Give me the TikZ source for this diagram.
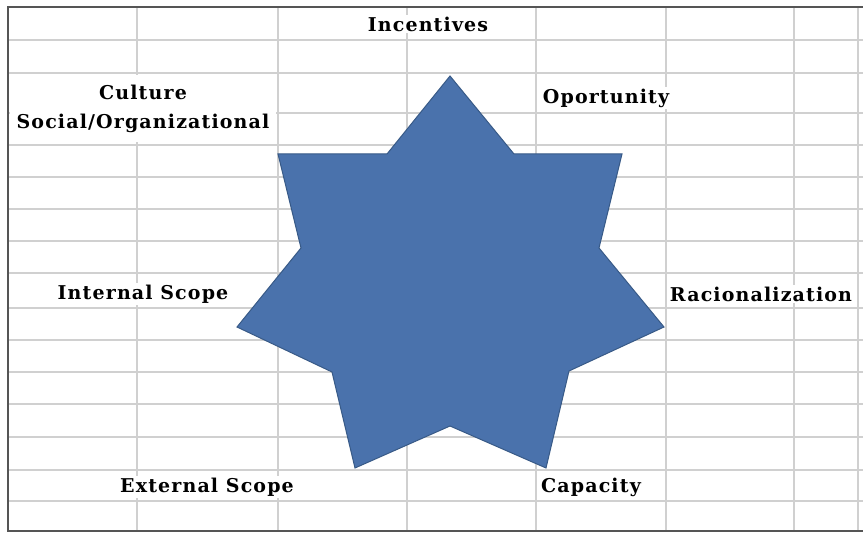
\documentclass[tikz,border=0pt]{standalone}
\usepackage{fontspec}
\setmainfont{DejaVu Serif}
\newfontfamily\cellfont[LetterSpace=6]{DejaVu Serif}
\usetikzlibrary{positioning}
\definecolor{starblue}{RGB}{74,114,172}
\definecolor{staredge}{RGB}{56,90,135}
\definecolor{gridgray}{RGB}{208,208,208}
\definecolor{framegray}{RGB}{85,85,85}
\tikzset{
gridline/.style={
draw=gridgray,
line width=1.4pt
},
frameline/.style={
draw=framegray,
line width=2pt
},
cell/.style={
fill=white,
inner sep=2pt,
align=center,
font=\cellfont\fontsize{19}{29}\selectfont\bfseries
},
starshape/.style={
fill=starblue,
draw=staredge,
line width=1pt,
line join=miter
}
}

\begin{document}
\begin{tikzpicture}[x=1pt,y=-1pt]
\useasboundingbox (0,0) rectangle (863,534);
\fill[white] (0,0) rectangle (863,534);

% sheet grid
\foreach \y in {40,73,113,145,177,209,241,273,308,340,372,404,437,470,501}
\draw[gridline] (8,\y) -- (863,\y);
\foreach \x in {137,278,407,536,666,794,858}
\draw[gridline] (\x,7) -- (\x,531);
\draw[frameline] (863,7) -- (8,7) -- (8,531) -- (863,531);

% seven point star
\draw[starshape] (450,76) -- (514,154) -- (622,154) -- (599,248) -- (664,327)
  -- (569,371) -- (546,468) -- (450,426) -- (355,468) -- (332,372)
  -- (237,327) -- (301,248) -- (278,154) -- (387,154) -- cycle;

\node[cell](incent) at (428,24) {Incentives};
\node[cell](oport) at (606,98) {Oportunity};
\node[cell](racion) at (761,294) {Racionalization};
\node[cell](capac) at (591,487) {Capacity};
\node[cell](extern) at (207,487) {External Scope};
\node[cell](intern) at (143,294) {Internal Scope};
\node[cell,minimum width=266,minimum height=67](cult) at (143,108.5) {Culture\\Social/Organizational};
\end{tikzpicture}
\end{document}
